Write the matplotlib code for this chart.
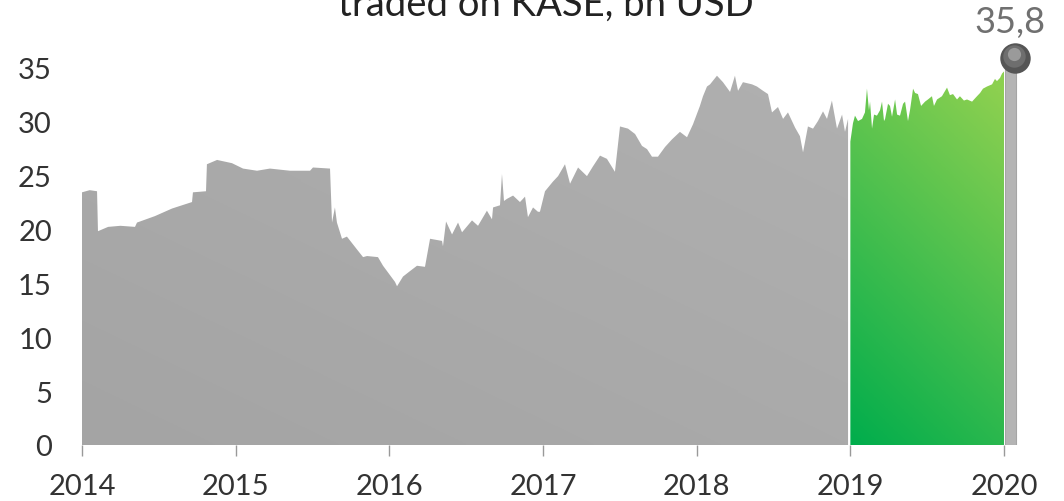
import numpy as np
import matplotlib.pyplot as plt
from matplotlib.colors import LinearSegmentedColormap

plt.rcParams['font.family'] = ['Lato', 'DejaVu Sans']

# market value, bn USD
gray_years = [2014.00, 2014.05, 2014.098, 2014.104, 2014.17, 2014.25, 2014.345, 2014.358,
              2014.475, 2014.586, 2014.716, 2014.722, 2014.807, 2014.813, 2014.879, 2014.976,
              2015.048, 2015.139, 2015.223, 2015.354, 2015.484, 2015.503, 2015.614, 2015.627,
              2015.646, 2015.659, 2015.692, 2015.724, 2015.790, 2015.829, 2015.855, 2015.926,
              2015.959, 2015.985, 2016.037, 2016.050, 2016.089, 2016.134, 2016.180, 2016.232,
              2016.265, 2016.343, 2016.349, 2016.369, 2016.408, 2016.447, 2016.473, 2016.538,
              2016.577, 2016.635, 2016.668, 2016.675, 2016.720, 2016.733, 2016.746, 2016.766,
              2016.805, 2016.850, 2016.883, 2016.902, 2016.935, 2016.967, 2016.980, 2017.013,
              2017.065, 2017.098, 2017.143, 2017.176, 2017.228, 2017.286, 2017.325, 2017.371,
              2017.416, 2017.468, 2017.501, 2017.553, 2017.599, 2017.644, 2017.677, 2017.709,
              2017.748, 2017.794, 2017.839, 2017.891, 2017.937, 2017.976, 2018.021, 2018.041,
              2018.067, 2018.087, 2018.132, 2018.171, 2018.217, 2018.249, 2018.269, 2018.301,
              2018.360, 2018.392, 2018.432, 2018.464, 2018.490, 2018.529, 2018.562, 2018.594,
              2018.640, 2018.672, 2018.692, 2018.724, 2018.757, 2018.789, 2018.822, 2018.848,
              2018.880, 2018.913, 2018.946, 2018.965, 2018.985]
gray_vals = [23.4, 23.6, 23.5, 19.8, 20.2, 20.3, 20.2, 20.6,
             21.2, 21.9, 22.5, 23.4, 23.5, 26.0, 26.4, 26.1,
             25.6, 25.4, 25.6, 25.4, 25.4, 25.7, 25.6, 20.6,
             22.0, 20.6, 19.1, 19.3, 18.1, 17.4, 17.5, 17.4,
             16.6, 16.1, 15.1, 14.7, 15.6, 16.1, 16.6, 16.5,
             19.1, 18.9, 18.4, 20.7, 19.5, 20.6, 19.7, 20.8,
             20.3, 21.7, 20.9, 22.0, 22.2, 25.1, 22.6, 22.8,
             23.1, 22.5, 23.0, 21.1, 22.0, 21.6, 21.6, 23.5,
             24.4, 24.9, 26.0, 24.2, 25.7, 24.9, 25.8, 26.8,
             26.5, 25.3, 29.5, 29.3, 28.8, 27.7, 27.4, 26.7,
             26.7, 27.6, 28.3, 29.0, 28.5, 29.7, 31.4, 32.3,
             33.2, 33.4, 34.2, 33.6, 32.7, 34.2, 32.8, 33.6,
             33.4, 33.2, 32.8, 32.5, 30.8, 31.3, 30.2, 30.8,
             29.4, 28.6, 27.1, 29.5, 29.3, 30.0, 30.9, 30.2,
             31.9, 29.3, 30.6, 29.0, 30.2]

green_years = [2019.000, 2019.017, 2019.030, 2019.050, 2019.076, 2019.095, 2019.108, 2019.121,
               2019.128, 2019.141, 2019.154, 2019.173, 2019.193, 2019.206, 2019.219, 2019.226,
               2019.245, 2019.258, 2019.271, 2019.291, 2019.304, 2019.323, 2019.343, 2019.356,
               2019.375, 2019.388, 2019.408, 2019.421, 2019.440, 2019.460, 2019.486, 2019.505,
               2019.531, 2019.544, 2019.564, 2019.596, 2019.629, 2019.648, 2019.668, 2019.694,
               2019.713, 2019.739, 2019.759, 2019.792, 2019.811, 2019.824, 2019.844, 2019.863,
               2019.889, 2019.922, 2019.941, 2019.954, 2019.974, 2019.987, 2020.000]
green_vals = [28.1, 29.8, 30.5, 30.0, 30.2, 30.8, 33.0, 31.0,
              31.8, 29.3, 30.6, 30.5, 31.0, 31.8, 30.0, 30.2,
              31.6, 31.4, 30.4, 32.0, 30.6, 30.5, 31.6, 31.8,
              30.0, 31.0, 33.0, 32.6, 32.5, 31.4, 31.8, 32.0,
              32.3, 31.4, 32.0, 32.3, 33.1, 32.4, 32.5, 32.0,
              32.3, 31.9, 32.0, 31.8, 32.1, 32.3, 32.6, 33.0,
              33.2, 33.4, 33.9, 33.7, 34.0, 34.4, 34.6]

last_year = 2020.0
last_val = 35.8
last_label = '35,8'

year_ticks = [2014, 2015, 2016, 2017, 2018, 2019, 2020]
y_ticks = [0, 5, 10, 15, 20, 25, 30, 35]

X0, X1 = 2013.922, 2020.234
Y1 = 37.6

fig = plt.figure(figsize=(10.64, 5.02), dpi=100)
ax = fig.add_axes([70 / 1064, 56 / 502, 970 / 1064, 406 / 502])


def gradient_area(xs, ys, c0, c1, wx, wy):
    poly = ax.fill_between(xs, ys, 0, color='none', lw=0)
    gx = np.linspace(xs[0], xs[-1], 200)
    gy = np.linspace(0, max(ys), 200)
    GX, GY = np.meshgrid(gx, gy)
    t = wx * (GX - xs[0]) / (xs[-1] - xs[0]) + wy * GY / max(ys)
    cmap = LinearSegmentedColormap.from_list('g', [c0, c1])
    im = ax.imshow(t, extent=[xs[0], xs[-1], 0, max(ys)], origin='lower',
                   cmap=cmap, vmin=0, vmax=1, aspect='auto', zorder=2,
                   interpolation='bilinear')
    im.set_clip_path(poly.get_paths()[0], transform=ax.transData)


gradient_area(gray_years, gray_vals, '#a4a4a4', '#b0b0b0', 0.5, 0.5)
gradient_area(green_years, green_vals, '#00ad4c', '#8cd050', 0.3, 0.75)

# pin for last value
ax.bar(last_year + 0.042, last_val, width=0.075, color='#b4b4b4',
       edgecolor='#a5a5a5', lw=0.8, zorder=3)
ax.scatter([last_year + 0.07], [last_val], s=480, color='#555555', zorder=4,
           clip_on=False, linewidths=0)
ax.scatter([last_year + 0.066], [last_val + 0.25], s=260, color='#6e6e6e', zorder=5,
           clip_on=False, linewidths=0)
ax.scatter([last_year + 0.062], [last_val + 0.45], s=90, color='#9a9a9a', zorder=6,
           clip_on=False, linewidths=0)
ax.text(last_year + 0.04, last_val + 3.4, last_label, ha='center', va='center',
        fontsize=26, color='#707070')

fig.text(0.513, 1 - 16 / 502, 'traded on KASE, bn USD', ha='center', va='baseline',
         fontsize=27.5, color='#222222')

ax.set_xlim(X0, X1)
ax.set_ylim(0, Y1)
ax.set_xticks(year_ticks)
ax.set_xticklabels([str(y) for y in year_ticks])
ax.set_yticks(y_ticks)
for s in ['top', 'right', 'left', 'bottom']:
    ax.spines[s].set_visible(False)
ax.tick_params(axis='y', length=0, pad=13, labelsize=21, labelcolor='#333333')
ax.tick_params(axis='x', length=8, width=1, color='#999999', pad=12, labelsize=21,
               labelcolor='#333333')

plt.savefig('out.png', dpi=100)
